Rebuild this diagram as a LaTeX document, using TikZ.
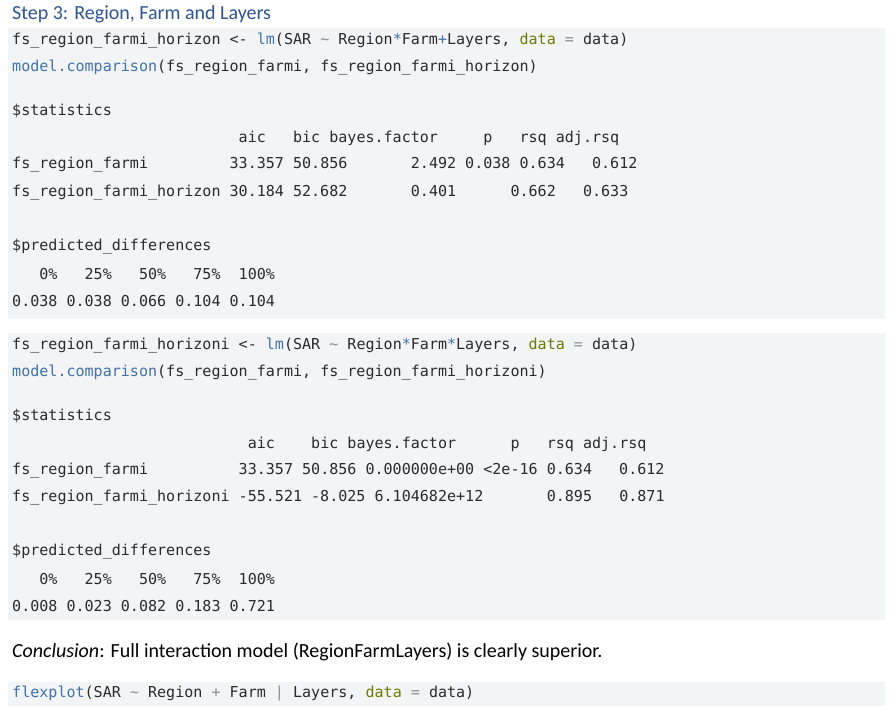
\documentclass[tikz,border=0pt]{standalone}
\usepackage{fontspec}
\setmainfont{Carlito}
\setmonofont{DejaVu Sans Mono}
\definecolor{CodeBg}{HTML}{F3F4F6}
\definecolor{CodeFn}{HTML}{4271AE}
\definecolor{CodeArg}{HTML}{6F7A00}
\definecolor{CodeOp}{HTML}{8E908C}
\definecolor{CodeTxt}{HTML}{2B2B2B}
\definecolor{TitleBlue}{HTML}{2F5496}
\newcommand{\rfn}[1]{\textcolor{CodeFn}{#1}}
\newcommand{\rarg}[1]{\textcolor{CodeArg}{#1}}
\newcommand{\rop}[1]{\textcolor{CodeOp}{#1}}
\newcommand{\rtld}{\rop{\textasciitilde}}

\begin{document}
\begin{tikzpicture}[
    x=1pt, y=-1pt,
    code/.style  = {anchor=west, inner sep=0pt, text=CodeTxt,
                    font=\fontsize{15.05}{18}\selectfont\ttfamily},
    prose/.style = {anchor=west, inner sep=0pt, text=black,
                    font=\fontsize{20}{23}\selectfont},
  ]
\useasboundingbox (0,0) rectangle (896,715);

% code backgrounds
\fill[CodeBg] (8,28) rectangle (885,319);
\fill[CodeBg] (8,333) rectangle (885,620);
\fill[CodeBg] (8,682) rectangle (885,706);

% title
\node[prose, text=TitleBlue] (title) at (12,14) {Step 3: Region, Farm and Layers};

% first comparison
\node[code] (c1a) at (12,41) {fs\_region\_farmi\_horizon <- \rfn{lm}(SAR \rtld{} Region\rfn{*}Farm\rfn{+}Layers, \rarg{data} \rop{=} data)};
\node[code] (c1b) at (12,68) {\rfn{model.comparison}(fs\_region\_farmi, fs\_region\_farmi\_horizon)};
\node[code] (s1) at (12,111) {\$statistics};
\node[code] (s1h) at (12,138) {~~~~~~~~~~~~~~~~~~~~~~~~~aic~~~bic bayes.factor~~~~~p~~~rsq adj.rsq};
\node[code] (s1r1) at (12,165) {fs\_region\_farmi~~~~~~~~~33.357 50.856~~~~~~~2.492 0.038 0.634~~~0.612};
\node[code] (s1r2) at (12,193) {fs\_region\_farmi\_horizon 30.184 52.682~~~~~~~0.401~~~~~~0.662~~~0.633};
\node[code] (p1) at (12,247) {\$predicted\_differences};
\node[code] (p1h) at (12,274) {~~~0\%~~~25\%~~~50\%~~~75\%~~100\%};
\node[code] (p1v) at (12,301) {0.038 0.038 0.066 0.104 0.104};

% second comparison
\node[code] (c2a) at (12,346) {fs\_region\_farmi\_horizoni <- \rfn{lm}(SAR \rtld{} Region\rfn{*}Farm\rfn{*}Layers, \rarg{data} \rop{=} data)};
\node[code] (c2b) at (12,373) {\rfn{model.comparison}(fs\_region\_farmi, fs\_region\_farmi\_horizoni)};
\node[code] (s2) at (12,416) {\$statistics};
\node[code] (s2h) at (12,444) {~~~~~~~~~~~~~~~~~~~~~~~~~~aic~~~~bic bayes.factor~~~~~~p~~~rsq adj.rsq};
\node[code] (s2r1) at (12,471) {fs\_region\_farmi~~~~~~~~~~33.357 50.856 0.000000e+00 <2e-16 0.634~~~0.612};
\node[code] (s2r2) at (12,498) {fs\_region\_farmi\_horizoni -55.521 -8.025 6.104682e+12~~~~~~~0.895~~~0.871};
\node[code] (p2) at (12,552) {\$predicted\_differences};
\node[code] (p2h) at (12,579) {~~~0\%~~~25\%~~~50\%~~~75\%~~100\%};
\node[code] (p2v) at (12,606) {0.008 0.023 0.082 0.183 0.721};

% conclusion and plot call
\node[prose] (concl) at (12,652) {\textit{Conclusion}: Full interaction model (RegionFarmLayers) is clearly superior.};
\node[code] (flex) at (12,694) {\rfn{flexplot}(SAR \rtld{} Region \rop{+} Farm \rop{|} Layers, \rarg{data} \rop{=} data)};
\end{tikzpicture}
\end{document}
